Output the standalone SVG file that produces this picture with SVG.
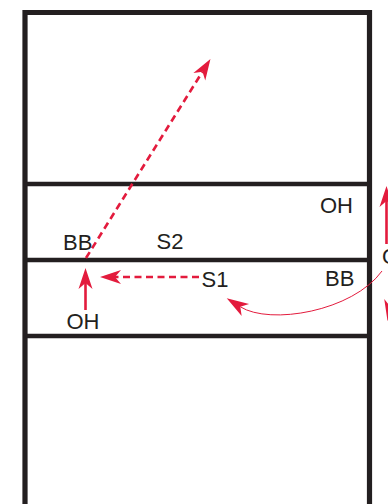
<svg xmlns="http://www.w3.org/2000/svg" width="388" height="504" viewBox="0 0 388 504">
<style>
.court{fill:none;stroke:#231f20;stroke-width:5.2}
.div{stroke:#231f20;stroke-width:4.6}
.lbl{font-family:"Liberation Sans",Arial,sans-serif;font-size:22px;fill:#231f20}
.dash{fill:none;stroke:#e31b3d;stroke-width:2.6;stroke-dasharray:7 4.5}
.solid{fill:none;stroke:#e31b3d;stroke-width:2.6}
.thin{fill:none;stroke:#e31b3d;stroke-width:1}
</style>
<defs>
<marker id="ah" markerUnits="userSpaceOnUse" viewBox="-8 -8 26 16" refX="0" refY="0" markerWidth="26" markerHeight="16" orient="auto" overflow="visible">
<path d="M15,0 L-6,-7 L0,0 L-6,7 Z" fill="#e31b3d"/>
</marker>
<marker id="ah2" markerUnits="userSpaceOnUse" viewBox="-8 -8 28 16" refX="0" refY="0" markerWidth="28" markerHeight="16" orient="auto" overflow="visible">
<path d="M16,0 L-6,-7 L0,0 L-6,7 Z" fill="#e31b3d"/>
</marker>
</defs>
<g id="court">
<path class="court" d="M25,520 L25,12.5 L369.5,12.5 L369.5,520"/>
<line class="div" x1="25" y1="184" x2="369.5" y2="184"/>
<line class="div" x1="25" y1="260" x2="369.5" y2="260"/>
<line class="div" x1="25" y1="336" x2="369.5" y2="336"/>
</g>
<g id="connectors">
<path class="dash" d="M86,258 L202.5,71.7" marker-end="url(#ah)"/>
<path class="dash" d="M199,277 L115,277" marker-end="url(#ah)"/>
<path class="solid" d="M85.5,310 L85.5,283" marker-end="url(#ah)"/>
<path class="solid" d="M386.5,244 L386.5,201" marker-end="url(#ah)"/>
<path class="solid" d="M394.4,281.6 L390.1,306.2" marker-end="url(#ah)"/>
<path class="thin" d="M382,271 C352.7,311.5 270,325.4 240.3,306.8" marker-end="url(#ah2)"/>
</g>
<g id="oh-top"><text class="lbl" x="320" y="213">OH</text></g>
<g id="bb-left"><text class="lbl" x="63" y="250">BB</text></g>
<g id="s2"><text class="lbl" x="156.5" y="249">S2</text></g>
<g id="s1"><text class="lbl" x="201.5" y="286.5">S1</text></g>
<g id="bb-right"><text class="lbl" x="325" y="286">BB</text></g>
<g id="oh-bottom"><text class="lbl" x="66.5" y="328.5">OH</text></g>
<g id="o-right"><text class="lbl" x="382" y="264">O</text></g>
</svg>
